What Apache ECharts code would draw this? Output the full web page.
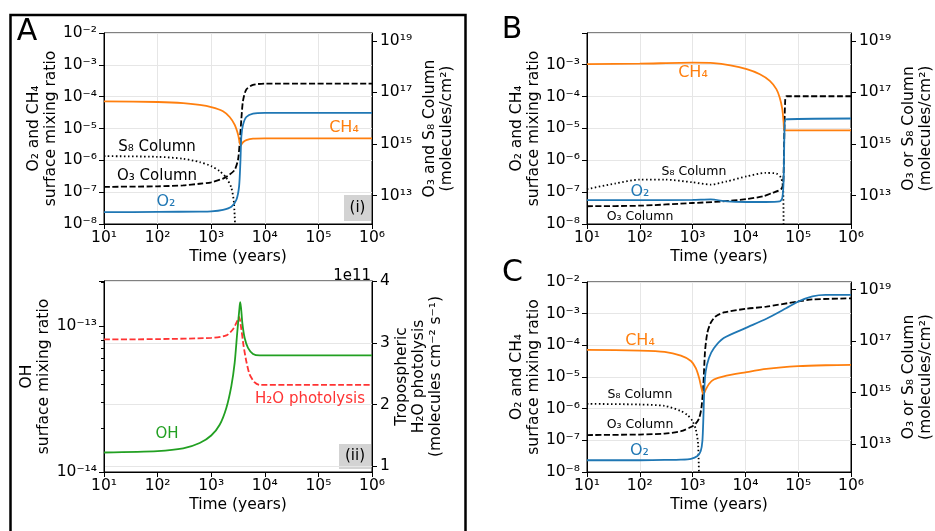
<!DOCTYPE html>
<html>
<head>
<meta charset="utf-8">
<script src="https://cdn.jsdelivr.net/npm/echarts@6/dist/echarts.min.js"></script>
<style>
html, body { margin: 0; padding: 0; background: #fff; }
#chart { width: 935px; height: 531px; }
</style>
</head>
<body>
<div id="chart"></div>
<script>
// ---- panel A(i) ----
const a1_ch4_t = [10, 100, 300, 610, 1000, 1660, 2210, 2750, 3170, 3550, 3920, 4520, 6030, 1e4, 1e6];
const a1_ch4 = [7.1e-5, 6.8e-5, 6.3e-5, 5.5e-5, 4.7e-5, 3.5e-5, 2.3e-5, 1.3e-5, 6.5e-6, 2.9e-6, 3.7e-6, 4.3e-6, 4.8e-6, 4.9e-6, 4.9e-6];
const a1_o2_t = [10, 100, 610, 1000, 1660, 2380, 2950, 3310, 3500, 3650, 3920, 4520, 6030, 1e4, 1e6];
const a1_o2 = [2.35e-8, 2.4e-8, 2.45e-8, 2.5e-8, 2.8e-8, 3.5e-8, 5.8e-8, 1.5e-7, 8.3e-7, 5.6e-6, 1.3e-5, 2.3e-5, 2.95e-5, 3.1e-5, 3.1e-5];
const a1_o3_t = [10, 100, 300, 610, 1000, 1660, 2210, 2750, 3170, 3400, 3650, 3920, 4520, 6030, 1e4, 1e6];
const a1_o3 = [2.2e13, 2.3e13, 2.5e13, 2.9e13, 3.3e13, 4.6e13, 6.6e13, 1.0e14, 2.5e14, 1.1e15, 9.1e15, 4.7e16, 1.3e17, 1.95e17, 2.2e17, 2.2e17];
const a1_s8_t = [10, 100, 300, 610, 1000, 1440, 1915, 2380, 2660, 2880];
const a1_s8 = [3.4e14, 3.2e14, 2.7e14, 2.0e14, 1.4e14, 8.9e13, 4.9e13, 2.0e13, 5.2e12, 1e11];

// ---- panel A(ii) ----
const a2_oh_t = [10, 100, 300, 610, 1000, 1440, 1915, 2380, 2740, 3050, 3400, 3500, 3810, 4210, 4860, 6030, 8020, 1e6];
const a2_oh = [1.36e-14, 1.39e-14, 1.45e-14, 1.58e-14, 1.78e-14, 2.11e-14, 2.75e-14, 3.9e-14, 5.6e-14, 8.9e-14, 1.38e-13, 1.46e-13, 1.05e-13, 8.3e-14, 7.1e-14, 6.45e-14, 6.3e-14, 6.3e-14];
const a2_h2o_t = [10, 100, 1000, 1915, 2550, 3050, 3310, 3650, 4020, 4520, 5210, 6470, 8020, 1e6];
const a2_h2o = [3.054, 3.06, 3.08, 3.12, 3.22, 3.35, 3.42, 3.22, 2.95, 2.70, 2.49, 2.36, 2.32, 2.32]; // x 1e11

// ---- panel B ----
const b_ch4_t = [10, 100, 1000, 2500, 5190, 10600, 18800, 29000, 38600, 44600, 50000, 53000, 55000, 1e6];
const b_ch4 = [1.04e-3, 1.07e-3, 1.15e-3, 1.12e-3, 9.5e-4, 7.2e-4, 5.0e-4, 3.1e-4, 1.7e-4, 9.3e-5, 4.0e-5, 1.5e-5, 8.7e-6, 8.7e-6];
const b_o2_t = [10, 100, 1000, 2200, 4470, 10600, 24000, 44600, 50000, 53000, 55000, 57500, 1e6];
const b_o2 = [5.6e-8, 5.6e-8, 5.7e-8, 5.9e-8, 5.1e-8, 4.9e-8, 4.9e-8, 5.1e-8, 6.6e-8, 2.5e-7, 9.3e-6, 1.9e-5, 2.04e-5];
const b_o3_t = [10, 100, 1000, 3370, 10600, 21700, 33000, 47400, 52000, 54000, 56500, 60000, 1e6];
const b_o3 = [3.9e12, 4.1e12, 5.2e12, 5.9e12, 7.4e12, 9.5e12, 1.3e13, 1.8e13, 3.1e13, 8.3e14, 4.0e16, 7.1e16, 7.1e16];
const b_s8_t = [10, 34, 100, 295, 1000, 2200, 4470, 10600, 24000, 38600, 47400, 52000, 53000];
const b_s8 = [1.8e13, 2.95e13, 4.2e13, 4.2e13, 3.3e13, 2.7e13, 3.6e13, 5.6e13, 7.6e13, 7.2e13, 4.9e13, 1.7e13, 1e11];

// ---- panel C ----
const c_ch4_t = [10, 100, 295, 600, 930, 1150, 1330, 1470, 1600, 1770, 2040, 2530, 3890, 1e4, 2.5e4, 1e5, 3.3e5, 1e6];
const c_ch4 = [7.2e-5, 6.8e-5, 6.2e-5, 4.7e-5, 3.2e-5, 1.9e-5, 9.3e-6, 4.5e-6, 2.8e-6, 4.0e-6, 6.0e-6, 8.3e-6, 1.05e-5, 1.4e-5, 1.8e-5, 2.2e-5, 2.35e-5, 2.4e-5];
const c_o2_t = [10, 100, 295, 600, 930, 1236, 1425, 1533, 1600, 1670, 1770, 2040, 2530, 3890, 1e4, 2.5e4, 5.9e4, 1e5, 1.86e5, 3.3e5, 1e6];
const c_o2 = [2.35e-8, 2.35e-8, 2.4e-8, 2.45e-8, 2.6e-8, 3.2e-8, 4.6e-8, 9.5e-8, 5.1e-7, 4.5e-6, 1.5e-5, 4.0e-5, 8.1e-5, 1.7e-4, 3.5e-4, 6.9e-4, 1.48e-3, 2.4e-3, 3.5e-3, 3.9e-3, 3.9e-3];
const c_o3_t = [10, 100, 295, 600, 930, 1150, 1330, 1470, 1600, 1720, 1900, 2190, 2720, 3890, 1e4, 2.5e4, 1e5, 1.86e5, 1e6];
const c_o3 = [2.2e13, 2.3e13, 2.5e13, 3.1e13, 4.5e13, 6.2e13, 1.0e14, 2.5e14, 2.0e15, 4.0e16, 2.1e17, 5.0e17, 9.1e17, 1.3e18, 1.8e18, 2.2e18, 3.5e18, 4.2e18, 4.6e18];
const c_s8_t = [10, 100, 295, 600, 804, 1000, 1151, 1273, 1340];
const c_s8 = [3.6e14, 3.4e14, 3.0e14, 1.9e14, 1.3e14, 7.6e13, 3.6e13, 9.5e12, 1e11];

// tick labels
const colTicks = [1e13, 1e15, 1e17, 1e19];
const phoTicks = [1, 2, 3, 4];
const ohMinor = [2e-14, 3e-14, 4e-14, 5e-14, 6e-14, 7e-14, 8e-14, 9e-14, 2e-13];

const FONT = 'DejaVu Sans';
const BLUE = '#1f77b4', ORANGE = '#ff7f0e', GREEN = '#22a022', RED = '#ff3333';
const GRIDC = '#e6e6e6';
const SUP = {'-': '⁻', '0': '⁰', '1': '¹', '2': '²', '3': '³', '4': '⁴', '5': '⁵', '6': '⁶', '7': '⁷', '8': '⁸', '9': '⁹'};

function pow10Label(v) {
  const e = Math.log10(v), r = Math.round(e);
  if (Math.abs(e - r) > 1e-6) return '';
  return '10' + String(r).split('').map(c => SUP[c]).join('');
}
function zip(t, v) { return t.map((x, i) => [x, v[i]]); }

const axisLine = { show: true, lineStyle: { color: '#000', width: 1 } };
const tick = { show: true, length: 5, lineStyle: { color: '#000', width: 1 } };
const nameStyle = { fontSize: 15.5, color: '#000', fontFamily: FONT, lineHeight: 17 };

function xLog(gi, grid) {
  return {
    type: 'log', gridIndex: gi, min: 10, max: 1e6,
    name: 'Time (years)', nameLocation: 'middle', nameGap: 24, nameTextStyle: nameStyle,
    axisLine, axisTick: tick,
    axisLabel: { formatter: pow10Label, fontSize: 15.5, color: '#000', margin: 6, fontFamily: FONT },
    splitLine: { show: grid, lineStyle: { color: GRIDC, width: 1 } }
  };
}
function yMix(gi, min, max, name, gap, grid) {
  return {
    type: 'log', gridIndex: gi, position: 'left', min, max,
    name, nameLocation: 'middle', nameGap: gap, nameTextStyle: nameStyle,
    axisLine, axisTick: tick,
    axisLabel: { formatter: pow10Label, fontSize: 15.5, color: '#000', margin: 7, fontFamily: FONT },
    splitLine: { show: grid, lineStyle: { color: GRIDC, width: 1 } }
  };
}
function yCol(gi, name) {
  return {
    type: 'log', gridIndex: gi, position: 'right', min: 8e11, max: 2e19,
    name, nameLocation: 'middle', nameGap: 49, nameTextStyle: nameStyle,
    axisLine, axisTick: Object.assign({ customValues: colTicks }, tick),
    axisLabel: { customValues: colTicks, formatter: pow10Label, fontSize: 15.5, color: '#000', margin: 8, fontFamily: FONT },
    splitLine: { show: false }
  };
}
function line(xi, yi, t, v, color, dash) {
  return {
    type: 'line', xAxisIndex: xi, yAxisIndex: yi, data: zip(t, v),
    showSymbol: false, symbol: 'none', smooth: 0.25, clip: true, silent: true,
    lineStyle: { color, width: 1.8, type: dash || 'solid' }
  };
}
function txt(x, y, text, color, size) {
  return {
    type: 'text', x, y, z: 100,
    style: { text, fill: color || '#000', font: (size || 15) + 'px "' + FONT + '"',
      textAlign: 'center', textVerticalAlign: 'middle', align: 'center', verticalAlign: 'middle' }
  };
}
const DASH = [6, 2.5], DOT = [1.5, 2.5];
const gridBox = { show: true, borderColor: '#000', borderWidth: 1, backgroundColor: 'transparent', containLabel: false };

const chart = echarts.init(document.getElementById('chart'), null, { renderer: 'canvas' });
chart.setOption({
  animation: false,
  textStyle: { fontFamily: FONT },
  grid: [
    Object.assign({ left: 104, top: 33, width: 268, height: 191 }, gridBox),
    Object.assign({ left: 104, top: 281, width: 268, height: 191 }, gridBox),
    Object.assign({ left: 587, top: 33, width: 267, height: 191 }, gridBox),
    Object.assign({ left: 587, top: 282, width: 267, height: 190 }, gridBox)
  ],
  xAxis: [xLog(0, true), xLog(1, false), xLog(2, true), xLog(3, true)],
  yAxis: [
    yMix(0, 1e-8, 1e-2, 'O₂ and CH₄\nsurface mixing ratio', 44, true),
    yCol(0, 'O₃ and S₈ Column\n(molecules/cm²)'),
    yMix(1, 1e-14, 2.04e-13, 'OH\nsurface mixing ratio', 52, false),
    {
      type: 'value', gridIndex: 1, position: 'right', min: 0.91, max: 4, splitNumber: 3,
      name: 'Tropospheric\nH₂O photolysis\n(molecules cm⁻² s⁻¹)', nameLocation: 'middle', nameGap: 21,
      nameTextStyle: nameStyle, axisLine, axisTick: Object.assign({ customValues: phoTicks }, tick),
      axisLabel: { customValues: phoTicks, fontSize: 15.5, color: '#000', margin: 8, fontFamily: FONT },
      splitLine: { show: true, lineStyle: { color: GRIDC, width: 1 } }
    },
    yMix(2, 1e-8, 9.8e-3, 'O₂ and CH₄\nsurface mixing ratio', 44, true),
    yCol(2, 'O₃ or S₈ Column\n(molecules/cm²)'),
    yMix(3, 1e-8, 1e-2, 'O₂ and CH₄\nsurface mixing ratio', 44, true),
    yCol(3, 'O₃ or S₈ Column\n(molecules/cm²)'),
    // minor ticks on the OH axis
    {
      type: 'log', gridIndex: 1, position: 'left', min: 1e-14, max: 2.04e-13,
      axisLine: { show: false },
      axisTick: { show: true, length: 3, customValues: ohMinor, lineStyle: { color: '#000', width: 1 } },
      axisLabel: { show: false }, splitLine: { show: false }
    }
  ],
  series: [
    line(0, 1, a1_s8_t, a1_s8, '#000', DOT),
    line(0, 1, a1_o3_t, a1_o3, '#000', DASH),
    line(0, 0, a1_ch4_t, a1_ch4, ORANGE),
    line(0, 0, a1_o2_t, a1_o2, BLUE),

    line(1, 3, a2_h2o_t, a2_h2o, RED, DASH),
    line(1, 2, a2_oh_t, a2_oh, GREEN),

    line(2, 5, b_s8_t, b_s8, '#000', DOT),
    line(2, 5, b_o3_t, b_o3, '#000', DASH),
    line(2, 4, b_ch4_t, b_ch4, ORANGE),
    line(2, 4, b_o2_t, b_o2, BLUE),

    line(3, 7, c_s8_t, c_s8, '#000', DOT),
    line(3, 7, c_o3_t, c_o3, '#000', DASH),
    line(3, 6, c_ch4_t, c_ch4, ORANGE),
    line(3, 6, c_o2_t, c_o2, BLUE)
  ],
  graphic: [
    { type: 'rect', shape: { x: 10.5, y: 15, width: 455, height: 540 }, style: { fill: 'none', stroke: '#000', lineWidth: 2.5 } },
    { type: 'rect', shape: { x: 344, y: 195, width: 27, height: 26 }, style: { fill: '#d3d3d3' } },
    { type: 'rect', shape: { x: 339, y: 444, width: 32, height: 25 }, style: { fill: '#d3d3d3' } },
    txt(27, 32, 'A', '#000', 30),
    txt(512, 30, 'B', '#000', 30),
    txt(512.5, 273.5, 'C', '#000', 30),
    txt(157, 147, 'S₈ Column'),
    txt(157, 176, 'O₃ Column'),
    txt(166, 202, 'O₂', BLUE, 16),
    txt(344, 128, 'CH₄', ORANGE, 16),
    txt(357.5, 208, '(i)'),
    txt(167, 434, 'OH', GREEN),
    txt(310, 399, 'H₂O photolysis', RED),
    txt(355, 456, '(ii)'),
    { type: 'text', x: 371, y: 276, z: 100, style: { text: '1e11', fill: '#000', font: '15px "' + FONT + '"', textAlign: 'right', textVerticalAlign: 'middle', align: 'right', verticalAlign: 'middle' } },
    txt(693, 73, 'CH₄', ORANGE, 16),
    txt(694, 172, 'S₈ Column', '#000', 12.5),
    txt(640, 192, 'O₂', BLUE, 16),
    txt(640, 217, 'O₃ Column', '#000', 12.5),
    txt(640, 341, 'CH₄', ORANGE, 16),
    txt(640, 395, 'S₈ Column', '#000', 12.5),
    txt(640, 424.5, 'O₃ Column', '#000', 12.5),
    txt(639.5, 451, 'O₂', BLUE, 16)
  ]
});
</script>
</body>
</html>
